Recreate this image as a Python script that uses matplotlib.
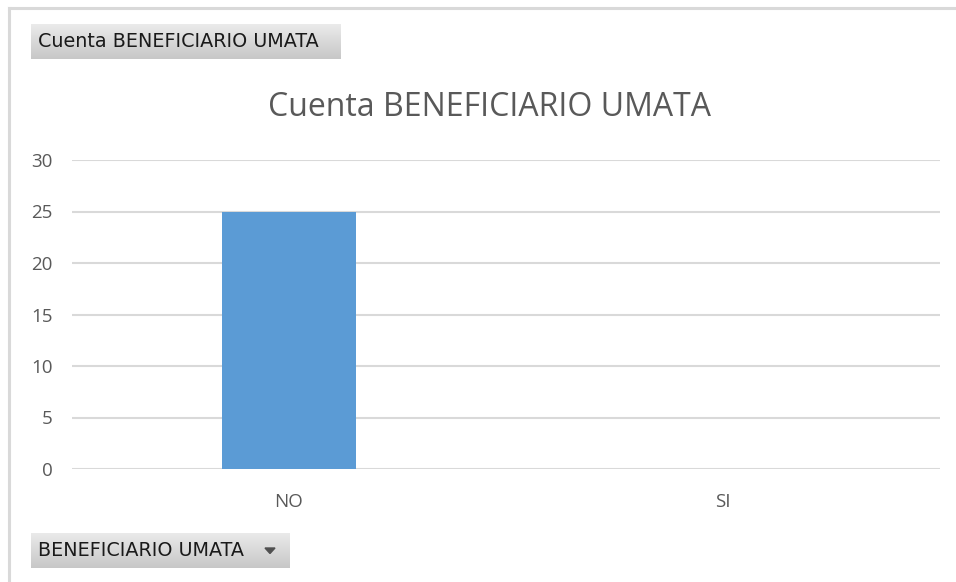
import numpy as np
import matplotlib
matplotlib.use("Agg")
import matplotlib.pyplot as plt
from matplotlib.lines import Line2D
from matplotlib.patches import Polygon

categories = ["NO", "SI"]
values = [25, 0]
yticks = [0, 5, 10, 15, 20, 25, 30]
title = "Cuenta BENEFICIARIO UMATA"
top_button = "Cuenta BENEFICIARIO UMATA"
bottom_button = "BENEFICIARIO UMATA"

W, H = 956, 582
fig = plt.figure(figsize=(W / 100, H / 100), dpi=100)
fig.patch.set_facecolor("white")

def fx(px):
    return px / W

def fy(py):
    return 1 - py / H

# outer frame (top and left lines)
fig.add_artist(Line2D([fx(9), fx(956)], [fy(8), fy(8)], color="#d9d9d9", lw=2.2, transform=fig.transFigure))
fig.add_artist(Line2D([fx(9), fx(9)], [fy(8), fy(582)], color="#d9d9d9", lw=2.2, transform=fig.transFigure))

ax = fig.add_axes([fx(72), fy(469), fx(940) - fx(72), fy(160) - fy(469)])
x = np.arange(len(categories))
ax.bar(x, values, width=0.31, color="#5b9bd5", zorder=3)
ax.set_xlim(-0.5, 1.5)
ax.set_ylim(0, 30)
ax.set_yticks(yticks)
ax.set_xticks(x)
ax.set_xticklabels(categories)
ax.yaxis.grid(True, color="#d9d9d9", lw=1.5, zorder=0)
ax.set_axisbelow(True)
for s in ax.spines.values():
    s.set_visible(False)
ax.tick_params(axis="both", length=0, colors="#595959", labelsize=13.5)
ax.tick_params(axis="y", pad=14)
ax.tick_params(axis="x", pad=17)
for lab in ax.get_xticklabels() + ax.get_yticklabels():
    lab.set_family("Open Sans")
    lab.set_color("#595959")

fig.text(fx(489), fy(108), title, ha="center", va="center", fontsize=23,
         color="#595959", family="Open Sans")

# buttons with gray gradient
def button(x0, y0, x1, y1, text, arrow=False):
    bax = fig.add_axes([fx(x0), fy(y1), fx(x1) - fx(x0), fy(y0) - fy(y1)])
    grad = np.linspace(0.92, 0.78, 50).reshape(-1, 1)
    img = np.dstack([grad, grad, grad])
    bax.imshow(img, aspect="auto", extent=[0, 1, 0, 1], origin="upper")
    bax.set_xlim(0, 1)
    bax.set_ylim(0, 1)
    bax.axis("off")
    fig.text(fx(x0 + 7), fy((y0 + y1) / 2), text, ha="left", va="center",
             fontsize=13.8, color="#1a1a1a", family="DejaVu Sans")
    if arrow:
        cx, cy = x1 - 20, (y0 + y1) / 2
        tri = Polygon([[fx(cx - 5), fy(cy - 2.5)], [fx(cx + 5), fy(cy - 2.5)], [fx(cx), fy(cy + 3)]],
                      closed=True, color="#505050", transform=fig.transFigure)
        fig.add_artist(tri)

button(31, 24, 341, 59, top_button)
button(31, 533, 290, 568, bottom_button, arrow=True)

fig.savefig("out.png", dpi=100, facecolor="white")
